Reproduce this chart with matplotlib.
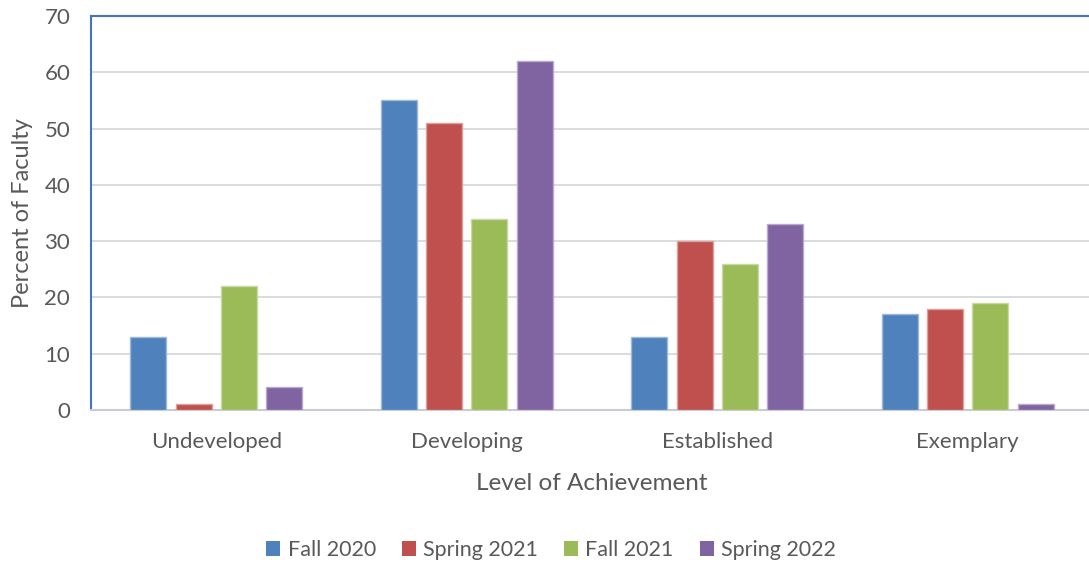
import matplotlib
matplotlib.use("Agg")
import matplotlib.pyplot as plt
import matplotlib.colors as mcolors
import numpy as np

categories = ["Undeveloped", "Developing", "Established", "Exemplary"]
series_names = ["Fall 2020", "Spring 2021", "Fall 2021", "Spring 2022"]
fall_2020 = [13, 55, 13, 17]
spring_2021 = [1, 51, 30, 18]
fall_2021 = [22, 34, 26, 19]
spring_2022 = [4, 62, 33, 1]
colors = ["#4F81BD", "#C0504D", "#9BBB59", "#8064A2"]

plt.rcParams['font.family'] = ['Lato', 'DejaVu Sans']
txt = "#595959"

fig = plt.figure(figsize=(10.89, 5.64), dpi=100)
ax = fig.add_axes([91/1089, 1-410/564, 1002/1089, (410-16)/564])

x = np.arange(len(categories))
width = 0.144
step = 0.181
data = [fall_2020, spring_2021, fall_2021, spring_2022]
for i, (vals, c, name) in enumerate(zip(data, colors, series_names)):
    rgb = np.array(mcolors.to_rgb(c))
    edge = rgb + (1 - rgb) * 0.45
    ax.bar(x + (i - 1.5) * step, vals, width, color=c, edgecolor=edge,
           linewidth=1.0, label=name, zorder=3)

ax.set_xlim(-0.5, 3.5)
ax.set_ylim(0, 70)
ax.set_yticks(range(0, 71, 10))
ax.yaxis.grid(True, color="#D9D9D9", linewidth=1.3, zorder=0)
ax.set_axisbelow(True)

ax.spines['right'].set_visible(False)
ax.spines['left'].set_color("#4472C4")
ax.spines['left'].set_linewidth(1.5)
ax.spines['top'].set_color("#4472C4")
ax.spines['top'].set_linewidth(1.5)
ax.spines['bottom'].set_color("#C8CCD4")
ax.spines['bottom'].set_linewidth(1.5)

ax.set_xticks(x)
ax.set_xticklabels(categories)
ax.tick_params(axis='both', length=0, labelsize=16, colors=txt)
ax.tick_params(axis='x', pad=16)
ax.tick_params(axis='y', pad=15)

ax.set_xlabel("Level of Achievement", fontsize=17.5, color=txt, labelpad=15)
ax.set_ylabel("Percent of Faculty", fontsize=17, color=txt, labelpad=10)
ax.yaxis.set_label_coords(-58/1002, 0.5)

leg = fig.legend(loc='center', bbox_to_anchor=(551/1089, 1-550/564), ncol=4,
                 frameon=False, fontsize=15.5, handlelength=0.65, handleheight=0.65,
                 handletextpad=0.35, columnspacing=1.2, labelcolor=txt)
for h in leg.legend_handles:
    h.set_edgecolor('none')

fig.savefig("out.png", dpi=100)
